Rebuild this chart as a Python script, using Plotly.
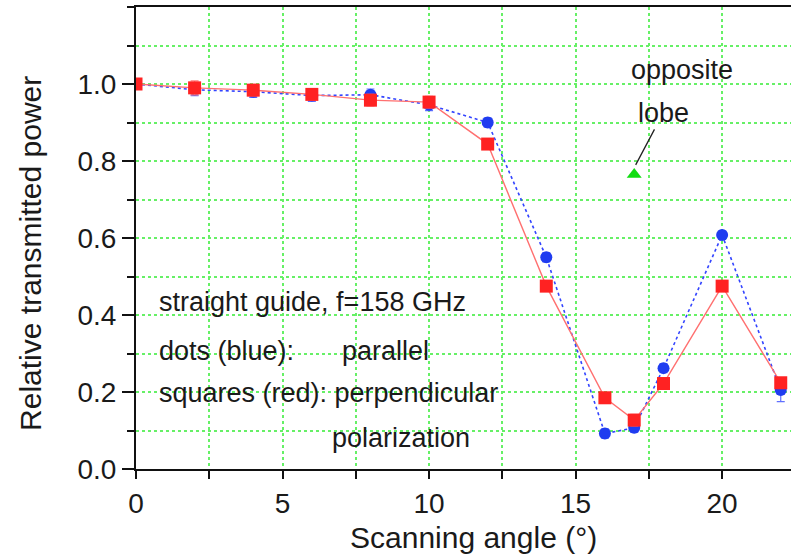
import plotly.graph_objects as go

# Scan angles (degrees) and relative transmitted power
angles = [0, 2, 4, 6, 8, 10, 12, 14, 16, 17, 18, 20, 22]
parallel = [1.0, 0.985, 0.980, 0.970, 0.972, 0.946, 0.900, 0.550, 0.092, 0.107, 0.262, 0.608, 0.205]
perpendicular = [1.0, 0.990, 0.984, 0.973, 0.958, 0.953, 0.844, 0.475, 0.185, 0.127, 0.222, 0.475, 0.224]
parallel_err = [0.01, 0.015, 0.015, 0.015, 0.015, 0.015, 0.012, 0.012, 0.012, 0.012, 0.012, 0.01, 0.03]
perpendicular_err = [0.01, 0.018, 0.015, 0.015, 0.015, 0.015, 0.012, 0.012, 0.012, 0.015, 0.012, 0.012, 0.01]

# Opposite lobe measurement
lobe_angle = [17]
lobe_power = [0.765]

x_ticks = [0, 5, 10, 15, 20]
y_ticks = [0.0, 0.2, 0.4, 0.6, 0.8, 1.0]
y_tick_text = ["0.0", "0.2", "0.4", "0.6", "0.8", "1.0"]

FONT = "Liberation Sans, Arial, Helvetica, sans-serif"
TXT = "#1a1a1a"
GRID = "#66f066"

fig = go.Figure()

fig.add_trace(go.Scatter(
    x=angles, y=parallel, mode="lines+markers", name="parallel",
    line=dict(color="#3344ff", width=1.6, dash="dot"),
    marker=dict(symbol="circle", size=12, color="#1f3cf0"),
    error_y=dict(type="data", array=parallel_err, color="#6070ff", thickness=1.2, width=4),
))
fig.add_trace(go.Scatter(
    x=angles, y=perpendicular, mode="lines+markers", name="perpendicular",
    line=dict(color="#ff7070", width=1.4),
    marker=dict(symbol="square", size=13, color="#ff2222"),
    error_y=dict(type="data", array=perpendicular_err, color="#ff8080", thickness=1.2, width=4),
))
fig.add_trace(go.Scatter(
    x=lobe_angle, y=lobe_power, mode="markers", name="opposite lobe",
    marker=dict(symbol="triangle-up", size=13, color="#11dd11"),
))

ann_font = dict(family=FONT, size=27, color=TXT)
notes = [
    (0.72, 0.434, "straight guide, f=158 GHz"),
    (0.72, 0.306, "dots (blue):"),
    (6.96, 0.306, "parallel"),
    (0.72, 0.197, "squares (red): perpendicular"),
    (6.62, 0.080, "polarization"),
]
for nx, ny, t in notes:
    fig.add_annotation(x=nx, y=ny, text=t, showarrow=False, xanchor="left",
                       yanchor="middle", font=ann_font)

fig.add_annotation(x=18.63, y=1.036, text="opposite", showarrow=False,
                   xanchor="center", yanchor="middle", font=ann_font)
fig.add_annotation(x=lobe_angle[0] + 0.05, y=lobe_power[0] + 0.025, text="lobe",
                   axref="x", ayref="y", ax=17.99, ay=0.925,
                   showarrow=True, arrowhead=0, arrowwidth=1.3, arrowcolor="#222222",
                   font=ann_font)

# Axis titles
title_font = dict(family=FONT, size=30, color=TXT)
fig.add_annotation(x=11.5, y=-0.149, xref="x", yref="paper", text="Scanning angle (°)",
                   showarrow=False, xanchor="center", yanchor="middle", font=title_font)
fig.add_annotation(x=-0.162, y=0.561, xref="paper", yref="y", text="Relative transmitted power",
                   textangle=-90, showarrow=False, xanchor="center", yanchor="middle",
                   font=title_font)

fig.update_layout(
    width=791, height=556,
    margin=dict(l=136, r=0, t=7, b=87),
    paper_bgcolor="white", plot_bgcolor="white",
    showlegend=False,
    font=dict(family=FONT, color=TXT),
)

fig.update_xaxes(
    range=[0, 22.35], tickvals=x_ticks,
    showline=True, linecolor="#111111", linewidth=2, mirror=True,
    ticks="outside", ticklen=8, tickwidth=2, tickcolor="#111111",
    tickfont=dict(family=FONT, size=28, color=TXT),
    showgrid=True, gridcolor=GRID, griddash="dot", gridwidth=1.5,
    minor=dict(dtick=2.5, ticks="outside", ticklen=8, tickwidth=2, tickcolor="#111111",
               showgrid=True, gridcolor=GRID, griddash="dot", gridwidth=1.5),
    zeroline=False,
)
fig.update_yaxes(
    range=[0, 1.2], tickvals=y_ticks, ticktext=y_tick_text,
    showline=True, linecolor="#111111", linewidth=2, mirror=False,
    ticks="outside", ticklen=12, tickwidth=2, tickcolor="#111111",
    tickfont=dict(family=FONT, size=28, color=TXT),
    showgrid=True, gridcolor=GRID, griddash="dot", gridwidth=1.5,
    minor=dict(dtick=0.1, ticks="outside", ticklen=7, tickwidth=2, tickcolor="#111111",
               showgrid=True, gridcolor=GRID, griddash="dot", gridwidth=1.5),
    zeroline=False,
)

fig.write_html("out.html")
